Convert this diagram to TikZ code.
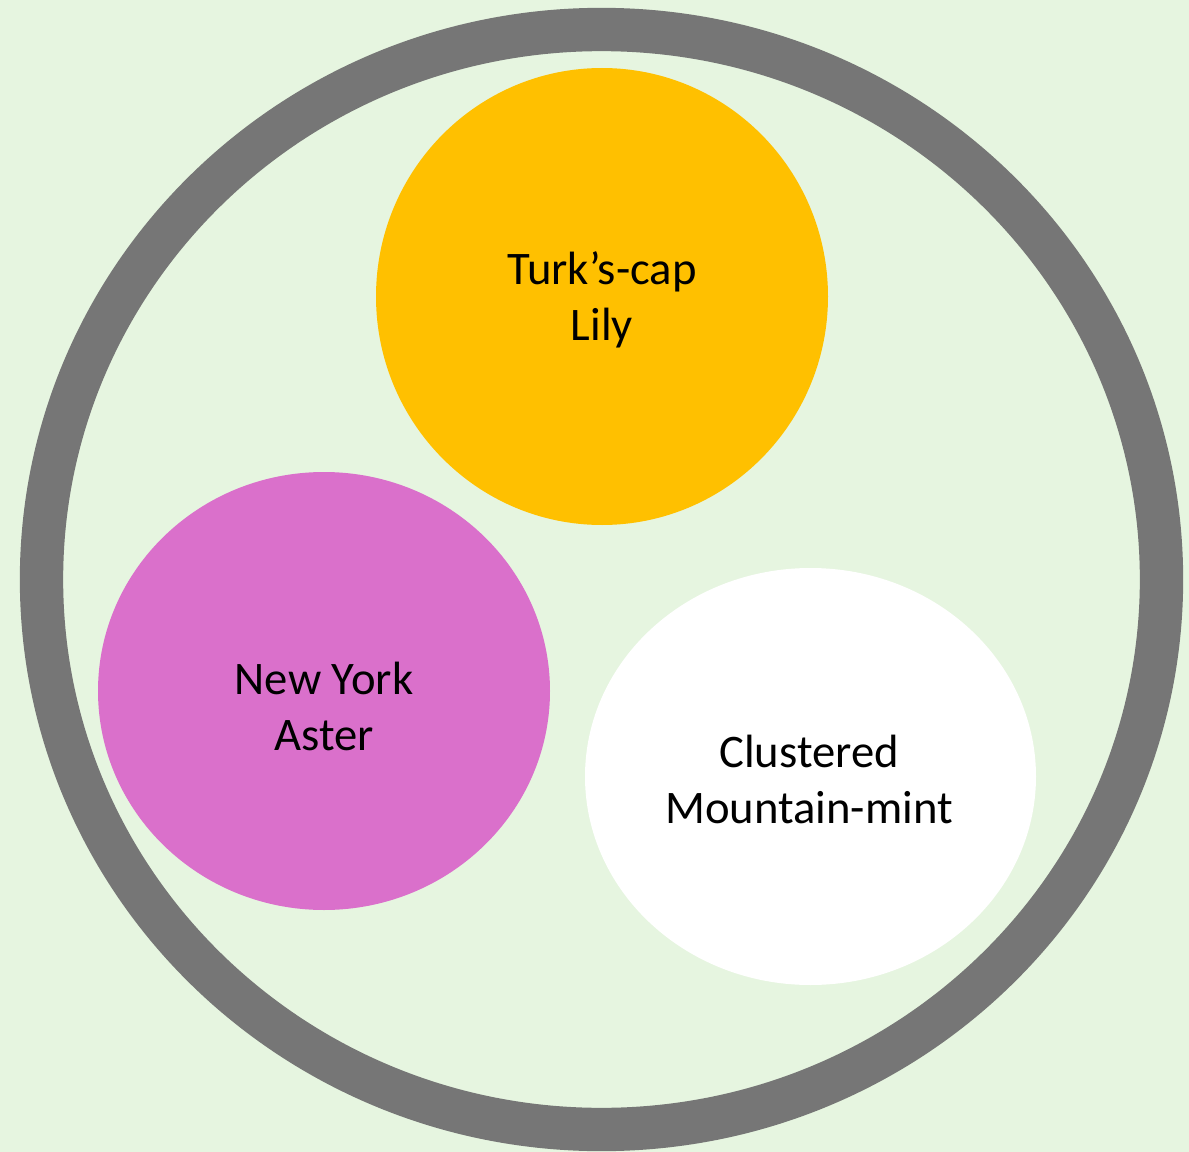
\documentclass[tikz,border=0pt]{standalone}
\usepackage{fontspec}
\setmainfont{Carlito}
\usepackage{tikz}
\usetikzlibrary{shapes.geometric}
\definecolor{meadow}{HTML}{E6F5E0}
\definecolor{ringgray}{HTML}{767676}
\definecolor{lilyyellow}{HTML}{FFC000}
\definecolor{asterpink}{HTML}{DA70CB}

\begin{document}
\begin{tikzpicture}[
  x=0.75pt,y=-0.75pt,
  flower/.style={ellipse,draw=none,inner sep=0pt},
  label/.style={align=center,font=\fontsize{35}{42}\selectfont}
]
  % background and outer ring
  \fill[meadow] (0,0) rectangle (1189,1152);
  \useasboundingbox (0,0) rectangle (1189,1152);
  \draw[ringgray,line width=32.5pt] (601.5,579.5) ellipse [x radius=560,y radius=550];

  % the three flowers
  \node[flower,fill=lilyyellow,minimum width=339pt,minimum height=342.75pt]
    (lily) at (602,296.5) {};
  \node[flower,fill=asterpink,minimum width=339pt,minimum height=328.5pt]
    (aster) at (324,691) {};
  \node[flower,fill=white,minimum width=338.25pt,minimum height=312.75pt]
    (mint) at (810.5,776.5) {};

  % names
  \node[label] (lilytext) at (602,299.5) {Turk’s-cap\\Lily};
  \node[label] (astertext) at (324,706.5) {New York\\Aster};
  \node[label] (minttext) at (809,779.5) {Clustered\\Mountain-mint};
\end{tikzpicture}
\end{document}
